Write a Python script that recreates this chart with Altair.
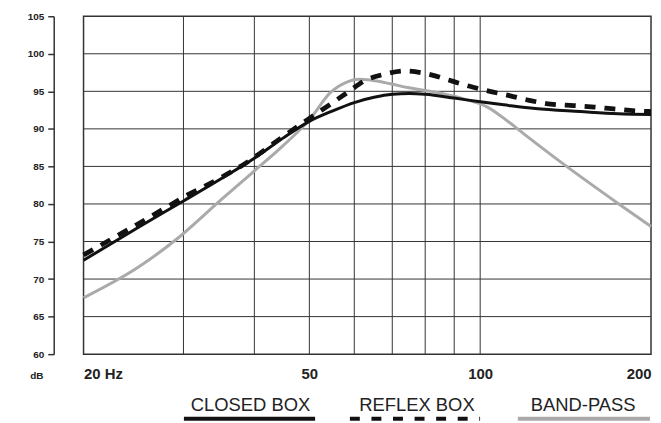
import altair as alt
import pandas as pd

# ---- data ----
closed_freq = [20, 25, 30, 35, 40, 45, 50, 55, 60, 65, 70, 75, 80, 90, 100, 110, 125, 150, 175, 200]
closed_db = [72.5, 76.9, 80.4, 83.4, 86.1, 88.8, 91.0, 92.4, 93.5, 94.2, 94.6, 94.7, 94.6, 94.1, 93.6, 93.2, 92.7, 92.3, 92.0, 91.9]

reflex_freq = [20, 22.5, 24.5, 26.5, 28.5, 30.5, 33, 35.5, 38, 45, 50, 54.5, 58.5, 62.5, 68, 73.5, 82, 88, 95.5, 104, 113, 122, 133, 146, 159, 172, 188, 200]
reflex_db = [73.2, 75.4, 77.0, 78.5, 79.9, 81.2, 82.5, 83.8, 85.1, 89.0, 91.4, 93.3, 94.9, 96.4, 97.3, 97.7, 97.2, 96.5, 95.7, 95.0, 94.4, 93.8, 93.3, 93.1, 92.9, 92.65, 92.4, 92.3]

band_freq = [20, 25, 29.5, 35, 39.5, 45, 50, 54.5, 58.5, 61, 64, 69.5, 74.5, 84, 93.5, 103, 111, 120, 142, 174, 200]
band_db = [67.5, 71.6, 75.6, 80.6, 84.05, 87.8, 91.2, 94.85, 96.3, 96.6, 96.5, 96.0, 95.5, 94.85, 94.0, 92.9, 91.2, 89.2, 85.0, 80.2, 77.0]

series_names = ["CLOSED BOX", "REFLEX BOX", "BAND-PASS"]

grid_freq = [30, 40, 50, 60, 70, 80, 90, 100]
grid_db = [65, 70, 75, 80, 85, 90, 95, 100]
y_tick_values = [60, 65, 70, 75, 80, 85, 90, 95, 100, 105]
x_label_values = [20, 50, 100, 200]

# ---- styles ----
FONT = "Liberation Sans"
INK = "#222222"
GRID = "#333333"
BLACK = "#111111"
GREY = "#aaaaaa"

xs = alt.Scale(type="log", domain=[20, 200], nice=False)
ys = alt.Scale(domain=[60, 105], nice=False, zero=False)

x_axis = alt.Axis(
    values=x_label_values,
    labelExpr="datum.value == 20 ? '20 Hz' : '' + datum.value",
    labelFont=FONT, labelFontSize=15, labelFontWeight="bold", labelColor=INK,
    labelPadding=13, labelFlush=True, labelOverlap=False,
    domain=False, ticks=False, grid=False, title=None,
)
y_axis = alt.Axis(
    values=y_tick_values, offset=30,
    labelExpr="'' + datum.value",
    labelFont=FONT, labelFontSize=10, labelFontWeight="bold", labelColor=INK,
    labelPadding=4, labelOverlap=False, labelFlush=False, labelBound=False,
    tickSize=6, tickColor=GRID, tickWidth=1.5,
    domainColor=GRID, domainWidth=1.5, grid=False,
    title="dB", titleAngle=0, titleX=-17.5, titleY=361.5,
    titleAlign="center", titleBaseline="middle",
    titleFont=FONT, titleFontSize=10, titleFontWeight="bold", titleColor=INK,
)

def X(field="freq:Q"):
    return alt.X(field, scale=xs, axis=x_axis)

def Y(field="db:Q"):
    return alt.Y(field, scale=ys, axis=y_axis)

curves = pd.concat([
    pd.DataFrame({"freq": closed_freq, "db": closed_db, "series": series_names[0]}),
    pd.DataFrame({"freq": reflex_freq, "db": reflex_db, "series": series_names[1]}),
    pd.DataFrame({"freq": band_freq, "db": band_db, "series": series_names[2]}),
])

vgrid = alt.Chart(pd.DataFrame({"freq": grid_freq})).mark_rule(color=GRID, strokeWidth=1).encode(x=X())
hgrid = alt.Chart(pd.DataFrame({"db": grid_db})).mark_rule(color=GRID, strokeWidth=1).encode(y=Y())

def curve(name, color, width, dash=None):
    kw = dict(color=color, strokeWidth=width, interpolate="monotone", strokeCap="butt")
    if dash:
        kw["strokeDash"] = dash
    return alt.Chart(curves).transform_filter(alt.datum.series == name).mark_line(**kw).encode(
        x=X(), y=Y(), order="freq:Q",
    )

band_line = curve(series_names[2], GREY, 3)
closed_line = curve(series_names[0], BLACK, 3)
reflex_line = curve(series_names[1], BLACK, 4.8, [11, 9])

# legend (text above a sample line), placed below the plot
legend_style = [
    (series_names[0], BLACK, None, 101, 233, 168),
    (series_names[1], BLACK, [10, 11.7], 268, 399, 335.5),
    (series_names[2], GREY, None, 437, 570, 502.7),
]
legend_layers = []
for name, color, dash, x1, x2, cx in legend_style:
    ldf = pd.DataFrame({"label": [name]})
    rk = dict(color=color, strokeWidth=4, strokeCap="butt")
    if dash:
        rk["strokeDash"] = dash
    legend_layers.append(
        alt.Chart(ldf).mark_rule(**rk).encode(
            x=alt.value(x1), x2=alt.value(x2), y=alt.value(405)
        )
    )
    legend_layers.append(
        alt.Chart(ldf).mark_text(font=FONT, fontSize=18.5, color=INK, align="center", baseline="alphabetic").encode(
            x=alt.value(cx), y=alt.value(397), text="label:N"
        )
    )

chart = alt.layer(
    vgrid, hgrid, band_line, closed_line, reflex_line, *legend_layers
).properties(
    width=571, height=340,
    autosize=alt.AutoSizeParams(type="none"),
    padding={"left": 76, "top": 7, "right": 2, "bottom": 68},
    background="white",
).configure_view(stroke=GRID, strokeWidth=1.5)

chart.save("out.html", embed_options={"renderer": "svg", "actions": False})
